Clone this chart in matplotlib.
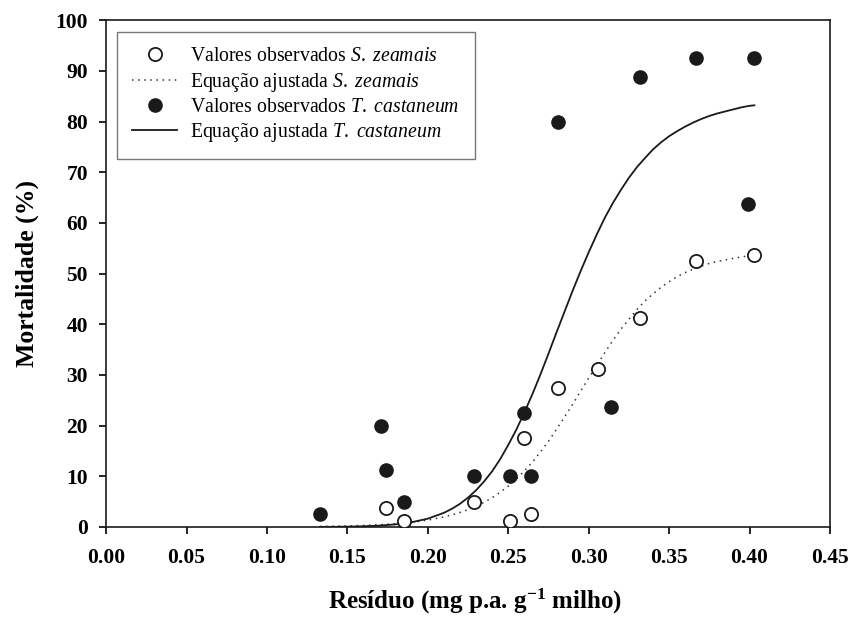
import matplotlib.pyplot as plt
import numpy as np

plt.rcParams['font.family'] = ['Liberation Serif', 'DejaVu Serif']
plt.rcParams['mathtext.fontset'] = 'custom'
plt.rcParams['mathtext.rm'] = 'Liberation Serif'
plt.rcParams['mathtext.it'] = 'Liberation Serif:italic'
plt.rcParams['mathtext.bf'] = 'Liberation Serif:bold'

# observed values, S. zeamais (open circles)
sz_x = [0.174, 0.185, 0.229, 0.251, 0.260, 0.264, 0.281, 0.306, 0.332, 0.367, 0.403]
sz_y = [3.75, 1.25, 5.0, 1.25, 17.5, 2.5, 27.5, 31.25, 41.25, 52.5, 53.75]

# observed values, T. castaneum (filled circles)
tc_x = [0.133, 0.171, 0.174, 0.185, 0.229, 0.251, 0.260, 0.264, 0.281, 0.314, 0.332, 0.367, 0.399, 0.403]
tc_y = [2.5, 20.0, 11.25, 5.0, 10.0, 10.0, 22.5, 10.0, 80.0, 23.75, 88.75, 92.5, 63.75, 92.5]

# fitted curves
fit_x = [0.133, 0.14, 0.15, 0.16, 0.17, 0.18, 0.19, 0.20, 0.21, 0.215, 0.22, 0.225, 0.23,
         0.235, 0.24, 0.245, 0.25, 0.255, 0.26, 0.265, 0.27, 0.275, 0.28, 0.285, 0.29,
         0.295, 0.30, 0.305, 0.31, 0.315, 0.32, 0.325, 0.33, 0.335, 0.34, 0.345, 0.35,
         0.355, 0.36, 0.365, 0.37, 0.375, 0.38, 0.385, 0.39, 0.395, 0.40, 0.403]
sz_fit = [0.11, 0.14, 0.21, 0.31, 0.44, 0.65, 0.94, 1.37, 1.99, 2.39, 2.87, 3.43, 4.10,
          4.89, 5.79, 6.85, 8.07, 9.46, 11.05, 12.8, 14.8, 16.9, 19.3, 21.7, 24.2,
          26.8, 29.4, 31.9, 34.4, 36.8, 39.0, 41.0, 42.9, 44.6, 46.0, 47.3, 48.4,
          49.4, 50.2, 50.9, 51.5, 52.0, 52.4, 52.7, 53.0, 53.3, 53.5, 53.6]
tc_fit = [0.02, 0.03, 0.07, 0.14, 0.28, 0.52, 0.94, 1.65, 2.80, 3.60, 4.58, 5.80, 7.25,
          9.0, 11.0, 13.4, 16.2, 19.2, 22.6, 26.2, 30.1, 34.2, 38.4, 42.5, 46.6,
          50.5, 54.2, 57.7, 61.0, 63.9, 66.5, 68.9, 71.0, 72.8, 74.5, 75.9, 77.1,
          78.1, 79.0, 79.8, 80.5, 81.1, 81.6, 82.0, 82.4, 82.8, 83.1, 83.2]

fig = plt.figure(figsize=(8.49, 6.2), dpi=100)
ax = fig.add_axes([0.125, 0.15, 0.8526, 0.8175])

ax.plot(sz_x, sz_y, 'o', mfc='white', mec='#1a1a1a', mew=1.3, ms=9.5,
        label=r'Valores observados $\mathit{S.\ zeamais}$', zorder=3)
ax.plot(fit_x, sz_fit, ls=(0, (1, 3)), color='#333333', lw=1.1,
        label=r'Equação ajustada $\mathit{S.\ zeamais}$', zorder=2)
ax.plot(tc_x, tc_y, 'o', mfc='#1a1a1a', mec='#1a1a1a', mew=1.0, ms=9.5,
        label=r'Valores observados $\mathit{T.\ castaneum}$', zorder=3)
ax.plot(fit_x, tc_fit, '-', color='#1a1a1a', lw=1.3,
        label=r'Equação ajustada $\mathit{T.\ castaneum}$', zorder=2)

ax.set_xlim(0, 0.45)
ax.set_ylim(0, 100)
ax.set_xticks(np.arange(0, 0.451, 0.05))
ax.set_yticks(np.arange(0, 101, 10))
ax.set_xticklabels(['%.2f' % v for v in np.arange(0, 0.451, 0.05)])
ax.tick_params(direction='out', length=5, width=1.2, labelsize=15.5)
ax.tick_params(axis='x', pad=10)
ax.tick_params(axis='y', pad=8)
for lab in ax.get_xticklabels() + ax.get_yticklabels():
    lab.set_fontweight('bold')
for sp in ax.spines.values():
    sp.set_linewidth(1.2)
    sp.set_color('#1a1a1a')

ax.set_xlabel(r'Resíduo (mg p.a. g$^{\mathbf{-1}}$ milho)', fontsize=18, fontweight='bold')
ax.xaxis.set_label_coords(0.51, -0.118)
ax.set_ylabel('Mortalidade (%)', fontsize=18.5, fontweight='bold', labelpad=12)

leg = ax.legend(loc='upper left', bbox_to_anchor=(0.015, 0.976), fontsize=14.2, frameon=True,
                fancybox=False, edgecolor='#555555', handlelength=2.3, labelspacing=0.22,
                borderpad=0.76, handletextpad=0.66, borderaxespad=0)
leg.get_frame().set_linewidth(1.0)

plt.savefig('out.png', dpi=100)
